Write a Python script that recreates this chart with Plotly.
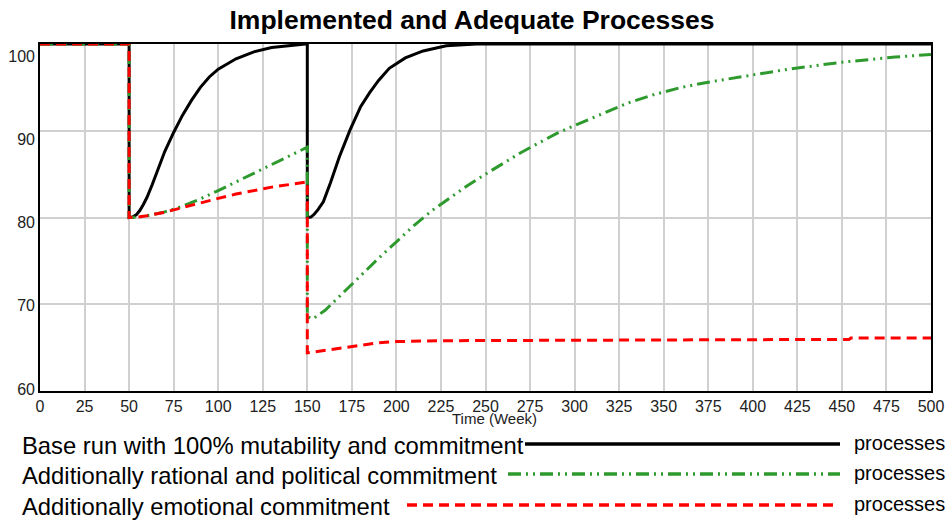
import plotly.graph_objects as go

# ---- data ----
black_t = [0, 50, 50, 52, 54, 56, 58, 60, 63, 66, 70, 75, 80, 85, 90, 95, 100, 110, 120, 130, 140, 149,
           150, 150, 152, 154, 156, 159, 163, 168, 174, 180, 185, 190, 196, 205, 215, 228, 245, 500]
black_v = [100, 100, 80, 80.05, 80.3, 80.8, 81.5, 82.3, 83.8, 85.5, 87.6, 89.8, 91.8, 93.5, 95.0, 96.2, 97.1,
           98.3, 99.1, 99.6, 99.85, 100,
           100, 80, 80.05, 80.4, 80.9, 81.8, 84.0, 87.0, 90.1, 92.8, 94.4, 95.8, 97.2, 98.4, 99.2, 99.8, 100, 100]

green_t = [0, 50, 50, 55, 60, 70, 80, 90, 100, 110, 120, 130, 140, 149,
           150, 150, 153, 160, 170, 180, 190, 200, 210, 220, 230, 240, 250, 260, 270, 280, 290, 300,
           315, 330, 345, 360, 375, 390, 405, 420, 435, 450, 465, 480, 500]
green_v = [100, 100, 80, 80.05, 80.2, 80.65, 81.3, 82.15, 83.1, 84.1, 85.1, 86.1, 87.1, 88.0,
           88.1, 68.6, 68.3, 69.3, 71.3, 73.4, 75.3, 77.2, 79.1, 80.8, 82.3, 83.7, 85.0, 86.3, 87.5, 88.6, 89.7, 90.6,
           91.9, 93.2, 94.2, 95.0, 95.6, 96.1, 96.6, 97.1, 97.5, 97.9, 98.2, 98.5, 98.8]

red_t = [0, 50, 50, 55, 60, 70, 80, 90, 100, 110, 120, 130, 140, 149,
         150, 150, 160, 170, 180, 190, 200, 225, 300, 454, 455, 500]
red_v = [100, 100, 80, 80.05, 80.2, 80.6, 81.15, 81.7, 82.2, 82.7, 83.1, 83.5, 83.8, 84.1,
         84.1, 64.4, 64.7, 65.0, 65.3, 65.55, 65.7, 65.8, 65.85, 65.95, 66.1, 66.1]

series_names = ["Base run with 100% mutability and commitment",
                "Additionally rational and political commitment",
                "Additionally emotional commitment"]
unit_label = "processes"
x_ticks = list(range(0, 501, 25))
y_ticks = [60, 70, 80, 90, 100]

# ---- styling ----
BLACK = "#000000"
GREEN = "#2e9a2e"
RED = "#ff0000"
GREEN_DASH = "13px,5px,2px,5px,2px,5px"
RED_DASH = "10px,6px"
SANS = "Liberation Sans, Arial, sans-serif"

W, H = 947, 521
L, R, T, B = 40, 16, 44, 130
pw, ph = W - L - R, H - T - B

def px_x(px):
    return (px - L) / pw

def px_y(py):
    return (H - B - py) / ph

fig = go.Figure()
fig.add_trace(go.Scatter(x=black_t, y=black_v, mode="lines", line=dict(color=BLACK, width=3),
                         showlegend=False, hoverinfo="skip", cliponaxis=False))
fig.add_trace(go.Scatter(x=green_t, y=green_v, mode="lines", line=dict(color=GREEN, width=3, dash=GREEN_DASH),
                         showlegend=False, hoverinfo="skip", cliponaxis=False))
fig.add_trace(go.Scatter(x=red_t, y=red_v, mode="lines", line=dict(color=RED, width=3, dash=RED_DASH),
                         showlegend=False, hoverinfo="skip", cliponaxis=False))
# invisible trace for the label axis
fig.add_trace(go.Scatter(x=[None], y=[None], yaxis="y2", showlegend=False, hoverinfo="skip"))

tick_font = dict(family=SANS, size=16, color="#222222")
fig.update_layout(
    width=W, height=H,
    margin=dict(l=L, r=R, t=T, b=B, autoexpand=False),
    paper_bgcolor="white", plot_bgcolor="white",
    title=dict(text="<b>Implemented and Adequate Processes</b>", x=472 / W, xanchor="center",
               y=1 - 20 / H, yanchor="middle", font=dict(family=SANS, size=26.5, color="black")),
    xaxis=dict(range=[0, 500], tickvals=x_ticks, showgrid=True, gridcolor="#d0d0d0", gridwidth=1.5,
               showline=True, linecolor="black", linewidth=2, mirror=True, ticks="", zeroline=False,
               automargin=False, layer="below traces", ticklabelstandoff=0, tickfont=tick_font),
    yaxis=dict(range=[60, 100], tickvals=y_ticks, showgrid=True, gridcolor="#d0d0d0", gridwidth=1.5,
               showline=True, linecolor="black", linewidth=2, mirror=True, ticks="", zeroline=False,
               automargin=False, layer="below traces", showticklabels=False),
    yaxis2=dict(overlaying="y", side="left", range=[59.76, 101.44], tickvals=y_ticks, showgrid=False,
                showline=False, zeroline=False, ticks="", ticklabelstandoff=4, automargin=False,
                tickfont=tick_font),
)

# x-axis title
fig.add_annotation(text="Time (Week)", x=px_x(494), y=px_y(418), xref="paper", yref="paper",
                   showarrow=False, xanchor="center", yanchor="middle",
                   font=dict(family=SANS, size=15, color="#222222"))

# custom legend
rows = [
    (series_names[0], 444, 525, 840, BLACK, "solid"),
    (series_names[1], 474, 508, 840, GREEN, GREEN_DASH),
    (series_names[2], 505, 407, 838, RED, RED_DASH),
]
for name, y, x0, x1, col, dash in rows:
    fig.add_annotation(text=name, x=px_x(20), y=px_y(y + 1), xref="paper", yref="paper",
                       showarrow=False, xanchor="left", yanchor="middle",
                       font=dict(family=SANS, size=23.8, color="black"))
    fig.add_shape(type="line", xref="paper", yref="paper", x0=px_x(x0), x1=px_x(x1),
                  y0=px_y(y), y1=px_y(y), line=dict(color=col, width=3.5, dash=dash))
    fig.add_annotation(text=unit_label, x=px_x(852), y=px_y(y - 1), xref="paper", yref="paper",
                       showarrow=False, xanchor="left", yanchor="middle",
                       font=dict(family=SANS, size=20, color="black"))

fig.write_html("out.html", config={"displayModeBar": False},
               post_script="document.body.style.margin='0';")
